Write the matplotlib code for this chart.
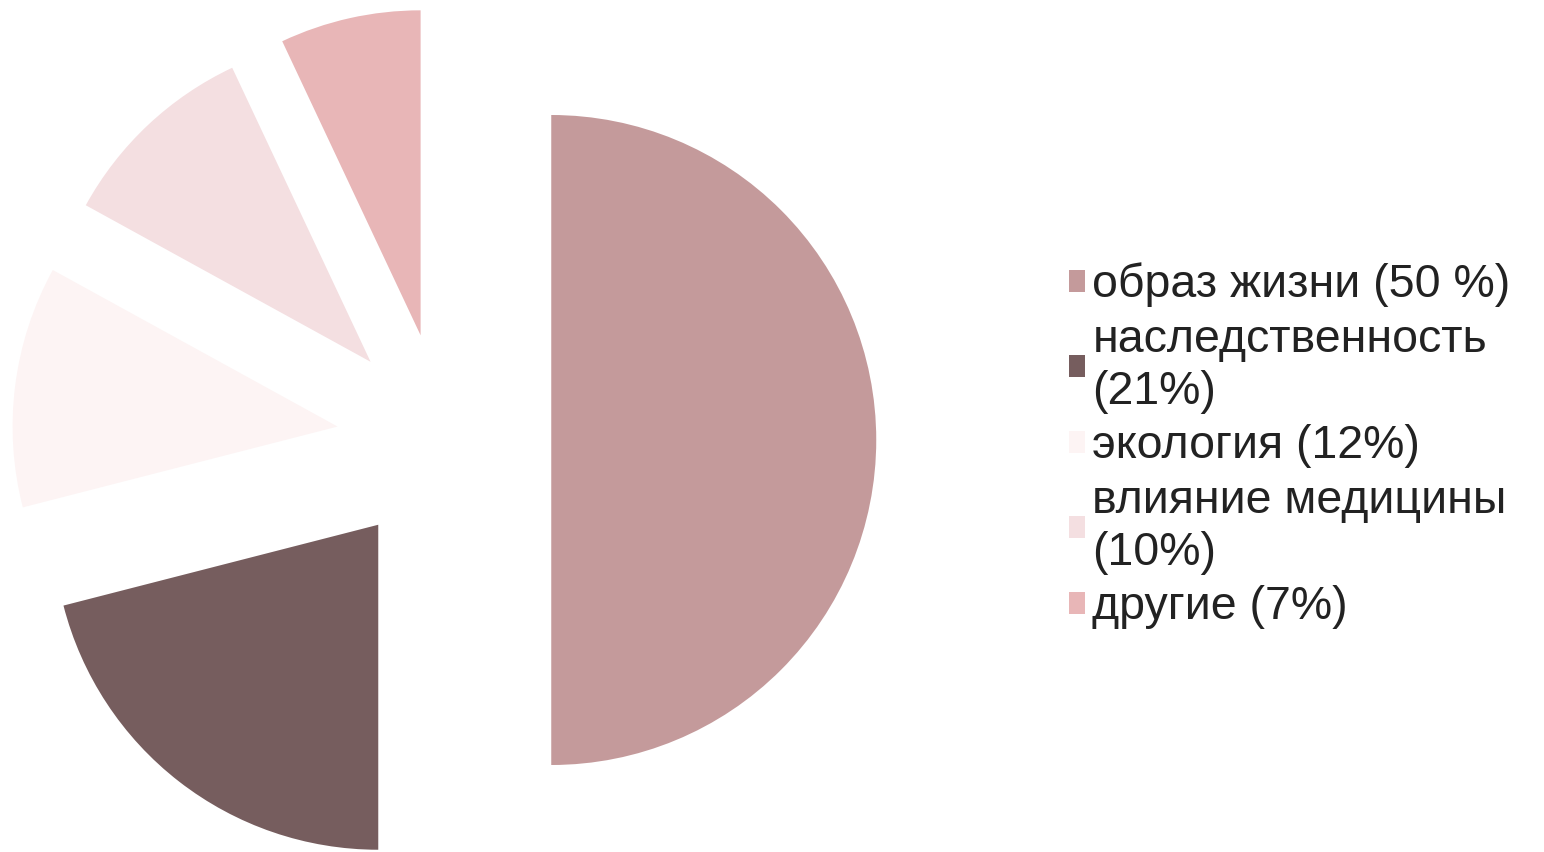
import matplotlib
matplotlib.use('Agg')
from matplotlib import pyplot as plt
from matplotlib.patches import Patch

plt.rcParams['font.family'] = ['Liberation Sans', 'DejaVu Sans']

#data
labels = ['образ жизни (50 %)', 'наследственность\n(21%)', 'экология (12%)',
          'влияние медицины\n(10%)', 'другие (7%)']
values = [50, 21, 12, 10, 7]
colors = ['#c49a9b', '#765d5e', '#fdf4f4', '#f4dfe1', '#e8b6b7']

W, H, DPI = 1544, 852, 100
cx, cy, R = 444, 440, 325   # pie centre and radius in pixels

fig = plt.figure(figsize=(W / DPI, H / DPI), dpi=DPI)
ax = fig.add_axes([0, 0, 1, 1])
ax.pie(values, colors=colors, startangle=90, counterclock=False,
       explode=[0.33] * len(values), radius=1,
       wedgeprops={'linewidth': 0, 'antialiased': True})
ax.set_xlim(-cx / R, (W - cx) / R)
ax.set_ylim(-(H - cy) / R, cy / R)
ax.set_aspect('equal')
ax.axis('off')

handles = [Patch(facecolor=c, edgecolor='none') for c in colors]
leg = fig.legend(handles, labels, loc='center left',
                 bbox_to_anchor=(1069 / W, 1 - 446 / H), frameon=False,
                 fontsize=33.5, handlelength=0.35, handleheight=0.35,
                 handletextpad=0.15, labelspacing=0.22, borderpad=0,
                 borderaxespad=0)
for t in leg.get_texts():
    t.set_color('#222222')
    t.set_linespacing(1.25)

fig.savefig('out.png', dpi=DPI)
